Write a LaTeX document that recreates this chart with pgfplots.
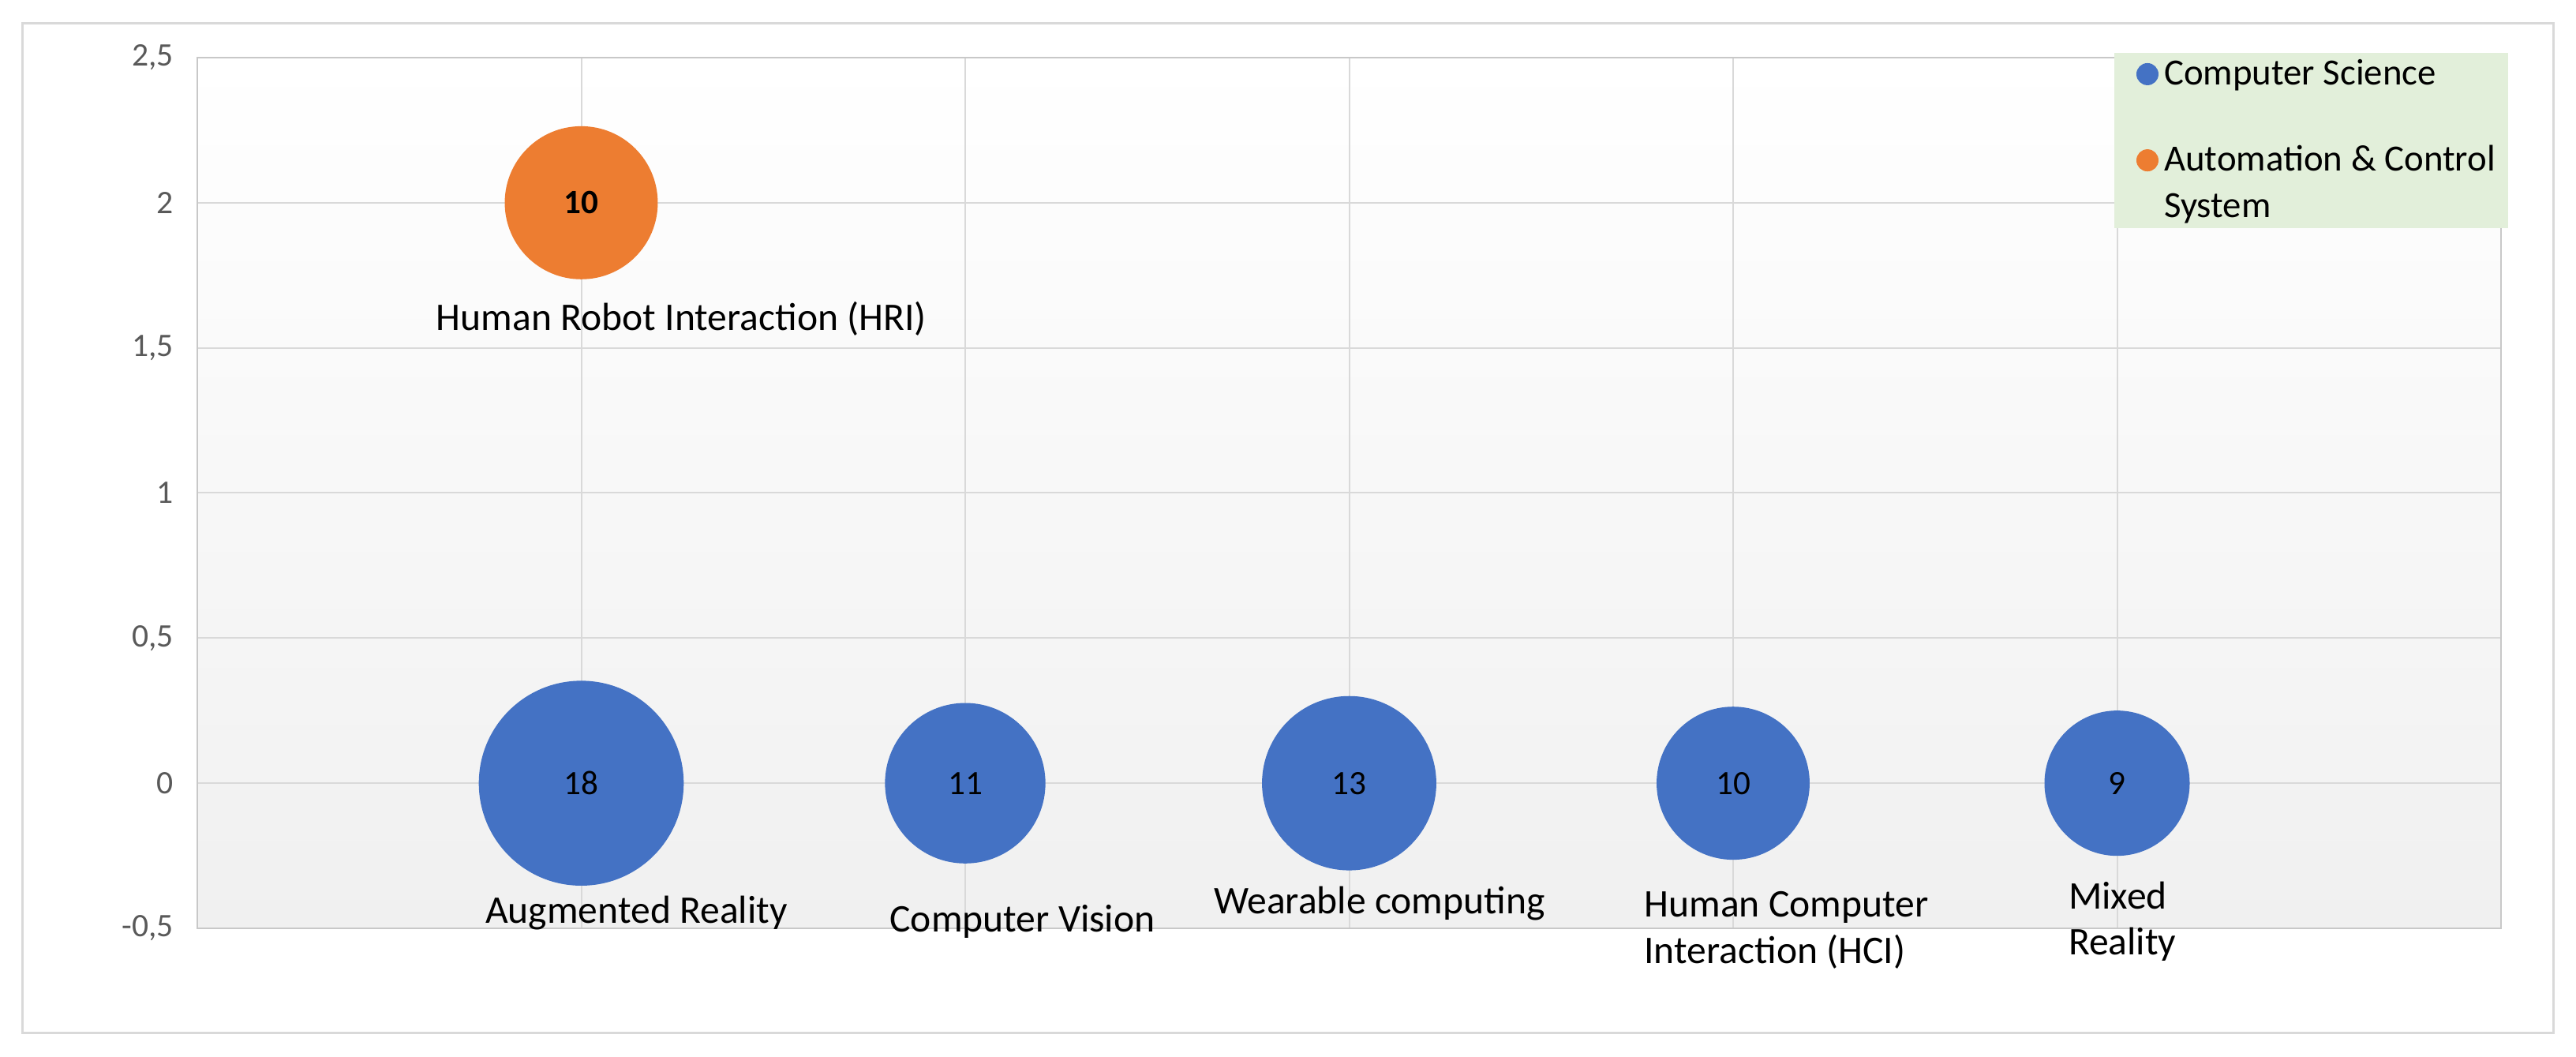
\documentclass[border=0pt]{standalone}
\usepackage{fontspec}
\setmainfont{Carlito}
\usepackage{pgfplots}
\usepackage{pgfplotstable}
\pgfplotsset{compat=1.18}
\definecolor{csblue}{HTML}{4472C4}
\definecolor{acorange}{HTML}{ED7D31}
\definecolor{leggreen}{HTML}{E2EFDA}
\definecolor{gridgray}{HTML}{D9D9D9}
\definecolor{axgray}{HTML}{C8C8C8}
\definecolor{ticktext}{HTML}{595959}
\definecolor{bgbot}{HTML}{F0F0F0}

\pgfplotstableread{
x y v
1 0 18
2 0 11
3 0 13
4 0 10
5 0 9
}\cstable
\pgfplotstableread{
x y v
1 2 10
}\actable

\newcommand{\labfont}{\fontsize{12.4}{14.6}\selectfont}

\begin{document}
\begin{tikzpicture}
\begin{axis}[
  scale only axis,
  width=729.75pt, height=275.75pt,
  xmin=0, xmax=6, ymin=-0.5, ymax=2.5,
  xtick={0,1,...,6}, xticklabels={},
  ytick={-0.5,0,...,2.5},
  grid=major,
  major grid style={gridgray, line width=0.5pt},
  tick style={draw=none},
  axis line style={draw=axgray, line width=0.6pt},
  /pgf/number format/assume math mode=true,
  yticklabel style={font=\fontsize{10.4}{12}\selectfont, text=ticktext, xshift=-4pt,
     /pgf/number format/.cd, use comma, fixed},
  clip=false,
  axis background/.style={top color=white, bottom color=bgbot},
  legend cell align=left,
  legend style={at={(0.8318,1.0063)}, anchor=north west, fill=leggreen, draw=none,
     font=\fontsize{11.7}{14}\selectfont, row sep=1.6pt, inner xsep=2pt, inner ysep=0pt},
]
% bubbles
\addplot[forget plot, scatter, only marks, mark=*,
  point meta=explicit,
  visualization depends on={\thisrow{v} \as \val},
  scatter/@pre marker code/.code={%
    \pgfmathsetmacro\ms{32.25*sqrt(\val/18)}%
    \scope[mark size=\ms pt, draw=csblue, fill=csblue]},
  scatter/@post marker code/.code={\endscope}]
  table[x=x, y=y, meta=v] {\cstable};
\addplot[forget plot, scatter, only marks, mark=*,
  point meta=explicit,
  visualization depends on={\thisrow{v} \as \val},
  scatter/@pre marker code/.code={%
    \pgfmathsetmacro\ms{32.25*sqrt(\val/18)}%
    \scope[mark size=\ms pt, draw=acorange, fill=acorange]},
  scatter/@post marker code/.code={\endscope}]
  table[x=x, y=y, meta=v] {\actable};
% bubble values
\addplot[forget plot, only marks, mark=none, point meta=explicit,
  nodes near coords, nodes near coords align=center,
  every node near coord/.append style={font=\fontsize{10.8}{12}\selectfont, text=black}]
  table[x=x, y=y, meta=v] {\cstable};
\addplot[forget plot, only marks, mark=none, point meta=explicit,
  nodes near coords, nodes near coords align=center,
  every node near coord/.append style={font=\fontsize{10.8}{12}\selectfont\bfseries, text=black}]
  table[x=x, y=y, meta=v] {\actable};

\addlegendimage{only marks, mark=*, mark size=3.3pt, color=csblue}
\addlegendentry{Computer Science}
\addlegendimage{empty legend}
\addlegendentry{\rule[-3pt]{0pt}{8pt}}
\addlegendimage{only marks, mark=*, mark size=3.3pt, color=acorange}
\addlegendentry{Automation \& Control}
\addlegendimage{empty legend}
\addlegendentry{System}

\node[font=\labfont, anchor=west, inner sep=0pt] at (axis cs:0.621,1.60) {Human Robot Interaction (HRI)};
\node[font=\labfont, anchor=west, inner sep=0pt] at (axis cs:0.749,-0.448) {Augmented Reality};
\node[font=\labfont, anchor=west, inner sep=0pt] at (axis cs:1.802,-0.477) {Computer Vision};
\node[font=\labfont, anchor=west, inner sep=0pt] at (axis cs:2.646,-0.414) {Wearable computing};
\node[font=\labfont, anchor=west, align=left, inner sep=0pt] at (axis cs:3.767,-0.506) {Human Computer\\Interaction (HCI)};
\node[font=\labfont, anchor=west, align=left, inner sep=0pt] at (axis cs:4.872,-0.477) {Mixed\\Reality};
\end{axis}
\draw[gridgray, line width=0.75pt] ([shift={(-55.25pt,-33pt)}]current axis.south west) rectangle ([shift={(16.5pt,10.75pt)}]current axis.north east);
\pgfresetboundingbox
\path ([shift={(-62.5pt,-40.5pt)}]current axis.south west) rectangle ([shift={(23.75pt,18.25pt)}]current axis.north east);
\end{tikzpicture}
\end{document}
